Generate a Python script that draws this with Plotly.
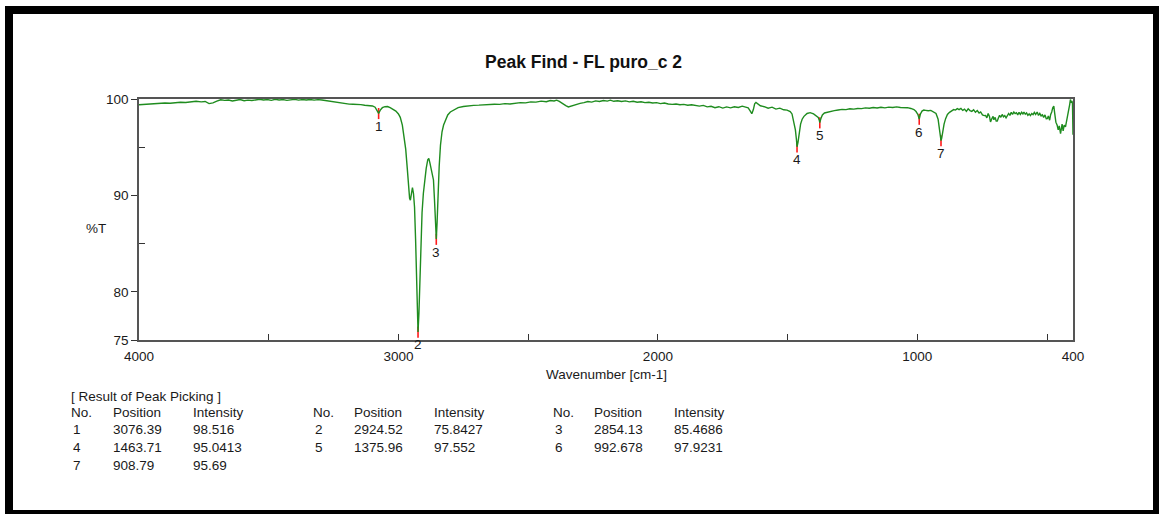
import plotly.graph_objects as go

# ---------------- data ----------------
wavenumber = [
    4000, 3980, 3960, 3940, 3920, 3900, 3880, 3860, 3840, 3820, 3800, 3780, 3760, 3745, 3730, 3715,
    3700, 3685, 3670, 3655, 3640, 3625, 3610, 3595, 3580, 3565, 3550, 3535, 3520, 3505, 3490, 3475,
    3460, 3445, 3430, 3415, 3400, 3385, 3370, 3355, 3340, 3325, 3310, 3295, 3280, 3265, 3250, 3235,
    3220, 3205, 3190, 3175, 3160, 3145, 3130, 3115, 3100, 3090, 3082, 3076.39, 3070, 3062, 3052, 3042,
    3032, 3020, 3010, 3000, 2993, 2985, 2978, 2972, 2966, 2961, 2957, 2954, 2950, 2946, 2942, 2938,
    2934, 2930, 2927, 2924.52, 2921, 2917, 2913, 2909, 2904, 2899, 2893, 2887, 2883, 2879, 2874, 2869,
    2865, 2861, 2857, 2854.13, 2851, 2847, 2843, 2838, 2832, 2826, 2818, 2810, 2800, 2785, 2770, 2750,
    2730, 2710, 2690, 2670, 2650, 2630, 2610, 2590, 2570, 2550, 2530, 2510, 2490, 2470, 2450, 2430,
    2415, 2400, 2390, 2380, 2370, 2355, 2345, 2330, 2315, 2300, 2285, 2270, 2255, 2240, 2225, 2210,
    2195, 2183, 2170, 2155, 2140, 2125, 2110, 2095, 2080, 2065, 2050, 2035, 2020, 2005, 1990, 1975,
    1960, 1945, 1930, 1915, 1900, 1885, 1870, 1855, 1840, 1825, 1810, 1795, 1780, 1765, 1750, 1735,
    1720, 1705, 1690, 1675, 1662, 1652, 1645, 1638, 1632, 1627, 1622, 1615, 1605, 1590, 1575, 1560,
    1545, 1530, 1515, 1502, 1490, 1483, 1476, 1470, 1466, 1463.71, 1460, 1455, 1450, 1444, 1437, 1425,
    1413, 1400, 1390, 1382, 1378, 1375.96, 1372, 1366, 1358, 1345, 1336, 1320, 1305, 1290, 1275, 1260,
    1245, 1230, 1215, 1200, 1185, 1170, 1155, 1140, 1125, 1110, 1095, 1080, 1065, 1050, 1038, 1025,
    1013, 1005, 998, 992.678, 988, 982, 975, 968, 958, 948, 938, 928, 920, 914, 910, 908.79,
    906, 902, 897, 891, 884, 876, 868, 860, 853, 846, 839, 832, 825, 818, 811, 804,
    797, 790, 783, 776, 769, 762, 756, 749, 742, 737, 732, 727, 722, 718, 713, 708,
    705, 700, 696, 692, 688, 683, 678, 673, 668, 663, 658, 653, 648, 643, 638, 633,
    628, 623, 618, 613, 608, 603, 598, 593, 589, 584, 579, 574, 569, 564, 559, 554,
    549, 544, 538, 533, 528, 523, 518, 513, 508, 503, 499, 495, 490, 486, 482, 478,
    474, 470, 466, 461, 457, 453, 448, 445, 442, 438, 434, 429, 425, 421, 417, 413,
    410, 407, 404, 402, 401, 400,
]
transmittance = [
    99.40, 99.45, 99.48, 99.50, 99.55, 99.58, 99.56, 99.62, 99.66, 99.64, 99.72, 99.76, 99.70, 99.74, 99.52, 99.60,
    99.78, 99.92, 99.86, 99.90, 99.80, 99.84, 99.95, 99.82, 99.88, 99.84, 99.92, 99.97, 99.90, 99.94, 99.86, 99.96,
    99.90, 99.94, 99.86, 99.92, 99.96, 99.88, 99.94, 99.90, 99.95, 99.88, 99.93, 99.90, 99.84, 99.80, 99.70, 99.62,
    99.55, 99.50, 99.47, 99.46, 99.45, 99.42, 99.35, 99.32, 99.28, 99.15, 98.80, 98.516, 98.85, 99.10, 99.20, 99.22,
    99.10, 98.95, 98.75, 98.45, 98.10, 97.30, 96.20, 94.80, 92.80, 90.60, 89.70, 89.50, 90.20, 90.80, 90.20, 88.80,
    85.50, 81.00, 77.50, 75.8427, 77.80, 81.50, 85.30, 88.20, 90.20, 91.60, 92.80, 93.70, 93.85, 93.40, 92.70, 92.20,
    91.60, 89.50, 86.80, 85.4686, 87.20, 90.50, 93.00, 95.20, 96.60, 97.30, 97.90, 98.35, 98.65, 98.90, 99.10, 99.22,
    99.30, 99.34, 99.36, 99.40, 99.38, 99.46, 99.44, 99.52, 99.48, 99.58, 99.62, 99.60, 99.70, 99.68, 99.78, 99.72,
    99.84, 99.80, 99.88, 99.76, 99.55, 99.32, 99.18, 99.30, 99.48, 99.55, 99.62, 99.74, 99.68, 99.80, 99.74, 99.84,
    99.78, 99.88, 99.76, 99.82, 99.74, 99.80, 99.70, 99.76, 99.66, 99.72, 99.62, 99.66, 99.58, 99.62, 99.52, 99.58,
    99.48, 99.44, 99.48, 99.40, 99.44, 99.36, 99.40, 99.30, 99.26, 99.34, 99.18, 99.24, 99.10, 99.20, 99.06, 99.18,
    99.08, 99.20, 99.12, 99.26, 99.20, 99.08, 98.80, 98.48, 98.90, 99.50, 99.65, 99.50, 99.30, 99.20, 99.05, 99.15,
    98.95, 99.05, 98.88, 98.85, 98.70, 98.45, 97.70, 96.80, 95.80, 95.0413, 95.50, 96.50, 97.40, 97.90, 98.20, 98.50,
    98.58, 98.45, 98.30, 98.10, 97.80, 97.552, 97.95, 98.35, 98.55, 98.65, 98.72, 98.80, 98.86, 98.92, 98.90, 98.98,
    98.95, 99.02, 99.00, 99.08, 99.04, 99.12, 99.06, 99.14, 99.08, 99.16, 99.12, 99.18, 99.12, 99.14, 99.10, 99.02,
    98.90, 98.70, 98.40, 97.9231, 98.45, 98.75, 98.85, 98.82, 98.78, 98.82, 98.70, 98.50, 97.90, 96.80, 95.95, 95.69,
    95.95, 96.70, 97.40, 97.96, 98.40, 98.62, 98.72, 98.90, 98.85, 99.00, 98.90, 99.02, 98.82, 98.95, 98.72, 98.98,
    98.80, 98.72, 98.88, 98.62, 98.80, 98.55, 98.66, 98.35, 98.28, 98.30, 98.05, 98.50, 98.20, 97.62, 97.95, 98.20,
    97.85, 98.10, 97.70, 97.70, 98.00, 98.30, 98.10, 98.40, 98.15, 98.28, 98.05, 98.24, 98.50, 98.30, 98.62, 98.40,
    98.65, 98.48, 98.58, 98.35, 98.62, 98.40, 98.62, 98.45, 98.65, 98.42, 98.55, 98.30, 98.45, 98.28, 98.50, 98.38,
    98.62, 98.40, 98.65, 98.30, 98.50, 98.25, 98.35, 98.10, 98.35, 97.95, 97.96, 98.25, 97.80, 98.40, 98.65, 99.10,
    99.27, 98.40, 97.60, 97.27, 96.80, 97.20, 96.40, 96.90, 97.40, 96.70, 97.30, 97.10, 97.80, 98.20, 98.83, 99.40,
    99.95, 99.60, 99.80, 99.50, 98.50, 96.30,
]

peak_no = [1, 2, 3, 4, 5, 6, 7]
peak_position = [3076.39, 2924.52, 2854.13, 1463.71, 1375.96, 992.678, 908.79]
peak_intensity = [98.516, 75.8427, 85.4686, 95.0413, 97.552, 97.9231, 95.69]
peak_position_text = ["3076.39", "2924.52", "2854.13", "1463.71", "1375.96", "992.678", "908.79"]
peak_intensity_text = ["98.516", "75.8427", "85.4686", "95.0413", "97.552", "97.9231", "95.69"]

x_tick_labels = [4000, 3000, 2000, 1000, 400]
x_minor_ticks = [3500, 2500, 1500, 500]
y_tick_labels = [100, 90, 80, 75]
y_minor_ticks = [95, 85]

# ---------------- layout geometry (pixels) ----------------
W, H = 1159, 514
L, R, T, B = 139, 1073, 99, 340
FONT = "Liberation Sans, Arial, sans-serif"
TXT = "#1a1a1a"
FS = 13.5


def px(x):
    return (x - L) / (R - L)


def py(y):
    return (B - y) / (B - T)


fig = go.Figure()

# red peak ticks (drawn below the curve)
tx, ty = [], []
for p, v in zip(peak_position, peak_intensity):
    tx += [p, p, None]
    ty += [v + 0.55, v - 0.6, None]
fig.add_trace(go.Scatter(
    x=tx, y=ty, mode="lines", line=dict(color="#ff1a1a", width=1.6),
    hoverinfo="skip", showlegend=False, cliponaxis=False,
))

fig.add_trace(go.Scatter(
    x=wavenumber, y=transmittance, mode="lines",
    line=dict(color="#1f8c1f", width=1.4), hoverinfo="skip", showlegend=False,
))

annotations = []
for n, p, v in zip(peak_no, peak_position, peak_intensity):
    annotations.append(dict(
        x=p, y=v, xref="x", yref="y", text=str(n), showarrow=False,
        yshift=-13, font=dict(family=FONT, size=FS, color=TXT),
    ))

# title
annotations.append(dict(
    x=px(583), y=py(62), xref="paper", yref="paper", text="<b>Peak Find - FL puro_c 2</b>",
    showarrow=False, font=dict(family=FONT, size=17.5, color="#111"), xanchor="center", yanchor="middle",
))
# %T
annotations.append(dict(
    x=px(96), y=py(228), xref="paper", yref="paper", text="%T",
    showarrow=False, font=dict(family=FONT, size=FS, color=TXT), xanchor="center", yanchor="middle",
))
# x axis title
annotations.append(dict(
    x=px(606), y=py(374), xref="paper", yref="paper", text="Wavenumber [cm-1]",
    showarrow=False, font=dict(family=FONT, size=FS, color=TXT), xanchor="center", yanchor="middle",
))


# result table
def tab(xp, yp, text):
    annotations.append(dict(
        x=px(xp), y=py(yp), xref="paper", yref="paper", text=text, showarrow=False,
        font=dict(family=FONT, size=FS, color=TXT), xanchor="left", yanchor="middle",
    ))


tab(69, 396, "[ Result of Peak Picking ]")
col_x = [(69, 111, 191), (311, 352, 432), (551, 592, 672)]
for cx in col_x:
    tab(cx[0], 412, "No.")
    tab(cx[1], 412, "Position")
    tab(cx[2], 412, "Intensity")
row_y = [429, 447, 465]
for i, n in enumerate(peak_no):
    r, c = divmod(i, 3)
    tab(col_x[c][0] + 2, row_y[r], str(n))
    tab(col_x[c][1], row_y[r], peak_position_text[i])
    tab(col_x[c][2], row_y[r], peak_intensity_text[i])

# outer black frame
shapes = []
for (x0, y0, x1, y1) in [(5, 6, 13, 514), (5, 6, 1158, 14), (1153, 6, 1159, 514), (5, 510, 1159, 514)]:
    shapes.append(dict(type="rect", xref="paper", yref="paper",
                       x0=px(x0), x1=px(x1), y0=py(y1), y1=py(y0),
                       fillcolor="black", line=dict(width=0), layer="above"))

fig.update_layout(
    width=W, height=H,
    margin=dict(l=L, r=W - R, t=T, b=H - B, pad=0),
    paper_bgcolor="white", plot_bgcolor="white",
    showlegend=False,
    annotations=annotations,
    shapes=shapes,
    font=dict(family=FONT, size=FS, color=TXT),
)
fig.update_xaxes(
    range=[4000, 400], showgrid=False, zeroline=False,
    showline=True, mirror=True, linecolor="#555", linewidth=1.5,
    tickmode="array", tickvals=x_tick_labels, ticktext=[str(v) for v in x_tick_labels],
    ticks="inside", ticklen=6, tickcolor="#333", tickwidth=1,
    minor=dict(tickmode="array", tickvals=x_minor_ticks, ticks="inside", ticklen=6, tickcolor="#333", tickwidth=1),
    tickfont=dict(family=FONT, size=FS, color=TXT), ticklabelstandoff=3,
)
fig.update_yaxes(
    range=[75, 100], showgrid=False, zeroline=False,
    showline=True, mirror=True, linecolor="#555", linewidth=1.5,
    tickmode="array", tickvals=y_tick_labels, ticktext=[str(v) for v in y_tick_labels],
    ticks="outside", ticklen=6, tickcolor="#333", tickwidth=1,
    minor=dict(tickmode="array", tickvals=y_minor_ticks, ticks="inside", ticklen=6, tickcolor="#333", tickwidth=1),
    tickfont=dict(family=FONT, size=FS, color=TXT),
)

fig.write_html("out.html")
